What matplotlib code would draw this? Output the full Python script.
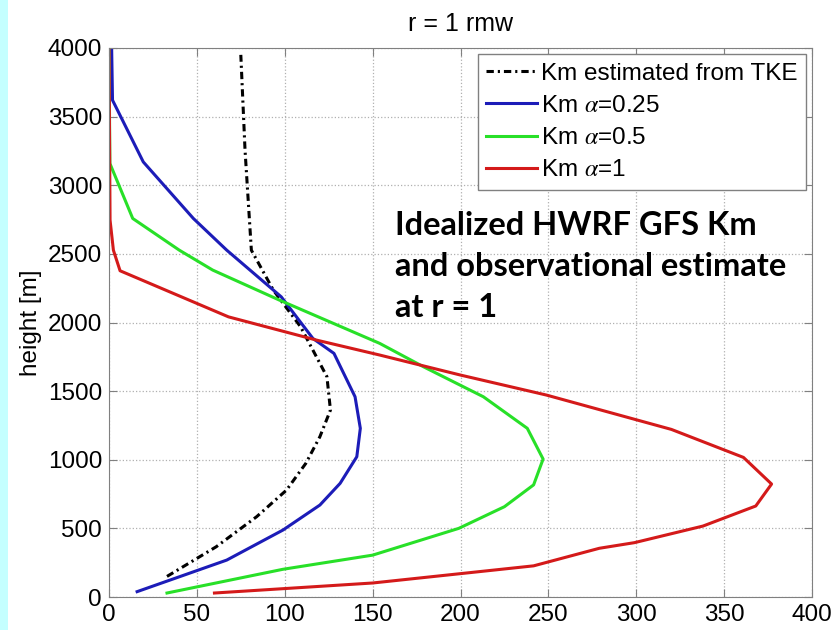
import matplotlib
matplotlib.use("Agg")
from matplotlib import pyplot as plt
from matplotlib.patches import Rectangle

# Km estimated from TKE (observational)
tke_km = [33, 61, 84, 101, 112, 120, 126, 124, 109, 93.5, 81, 77.4, 75]
tke_z = [150, 366, 585, 779, 974, 1168, 1362, 1605, 1969, 2236, 2527, 3256, 3950]

# Km alpha=0.25
a025_km = [16, 67, 99, 120, 131.5, 141, 143, 140, 128, 116, 98, 67, 48, 19.5, 2, 1.5]
a025_z = [39, 269, 488, 670, 828, 1022, 1229, 1459, 1775, 1884, 2187, 2527, 2758, 3170, 3620, 4000]

# Km alpha=0.5
a05_km = [33, 99, 150, 199, 225, 241.6, 247, 238, 213, 179, 154, 97, 59, 40, 13.5, 0.5, 0]
a05_z = [29, 202, 305, 500, 658, 817, 1005, 1229, 1459, 1677, 1848, 2163, 2382, 2527, 2758, 3159, 4000]

# Km alpha=1
a1_km = [60, 150, 241.6, 279, 299, 338, 368, 377, 361, 320, 249, 200, 154, 118, 68, 6.3, 2.5, 0.6, 0]
a1_z = [29, 102, 227, 355, 396, 517, 663, 823, 1017, 1221, 1471, 1617, 1763, 1872, 2041, 2377, 2527, 2746, 4000]

labels = ["Km estimated from TKE", r"Km $\alpha$=0.25", r"Km $\alpha$=0.5", r"Km $\alpha$=1"]

plt.rcParams["font.family"] = ["Liberation Sans", "DejaVu Sans"]
plt.rcParams["mathtext.fontset"] = "stix"

fig = plt.figure(figsize=(8.38, 6.30), dpi=100)
fig.patches.append(Rectangle((0, 0), 8 / 838, 1, transform=fig.transFigure,
                             facecolor="#c4ffff", edgecolor="none", zorder=0))
ax = fig.add_axes([109 / 838, 33 / 630, 703 / 838, 549 / 630])

ax.plot(tke_km, tke_z, color="black", lw=2.2, linestyle=(0, (2.4, 1.3, 0.7, 1.3)), label=labels[0])
ax.plot(a025_km, a025_z, color="#1c1cb8", lw=2.2, label=labels[1])
ax.plot(a05_km, a05_z, color="#28e028", lw=2.2, label=labels[2])
ax.plot(a1_km, a1_z, color="#d41a1a", lw=2.2, label=labels[3])

ax.set_xlim(0, 400)
ax.set_ylim(0, 4000)
ax.set_xticks(range(0, 401, 50))
ax.set_yticks(range(0, 4001, 500))
ax.grid(True, linestyle=":", color="#b0b0b0", lw=0.9)
ax.tick_params(direction="in", top=True, right=True, length=6, labelsize=17.5,
               color="#808080", pad=5)
for s in ax.spines.values():
    s.set_color("#808080")

ax.set_ylabel("height [m]", fontsize=17.5, labelpad=4)
ax.set_title("r = 1 rmw", fontsize=18, pad=12)

leg = ax.legend(loc="upper right", fontsize=17.5, fancybox=False, framealpha=1,
                edgecolor="#808080", handlelength=2.1, handletextpad=0.15,
                labelspacing=0.42, borderaxespad=0.25, borderpad=0.35)
leg.get_frame().set_linewidth(1.0)

ax.text(163, 2810, "Idealized HWRF GFS Km\nand observational estimate\nat r = 1",
        fontsize=23.5, fontweight="bold", family=["Lato", "DejaVu Sans"],
        va="top", ha="left", linespacing=1.5)

fig.savefig("out.png", dpi=100)
